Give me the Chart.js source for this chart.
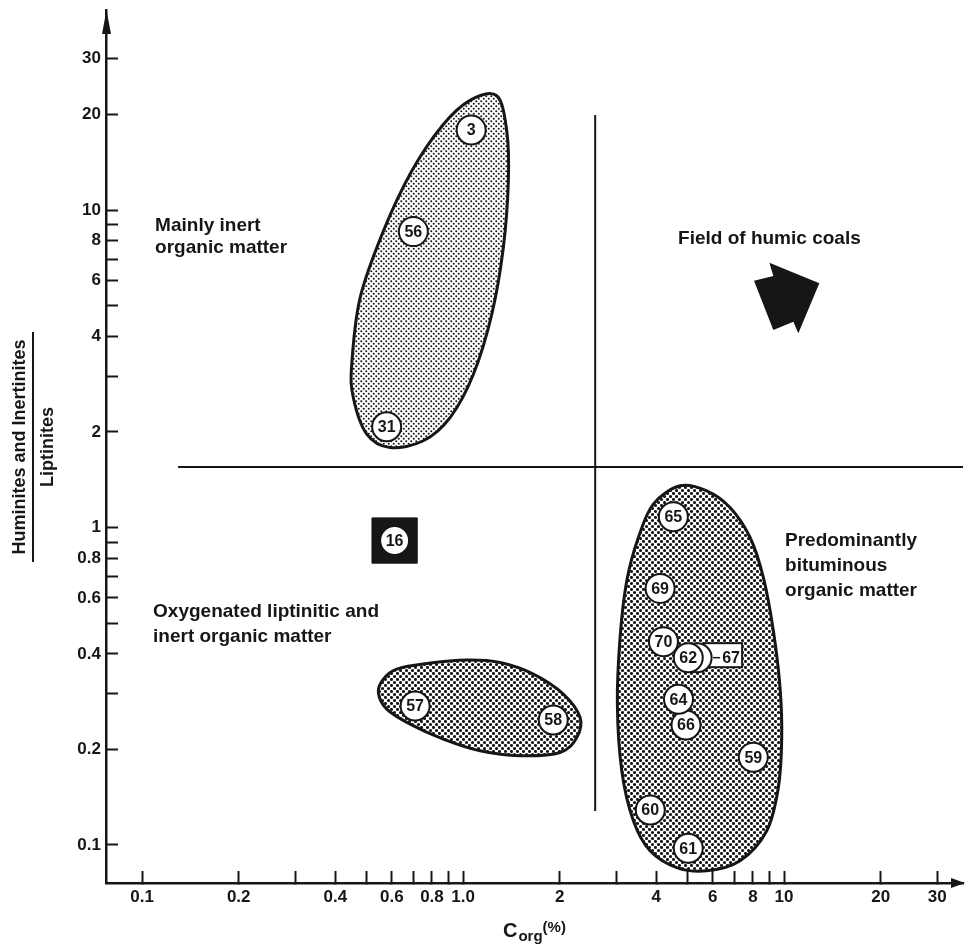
<!DOCTYPE html>
<html><head><meta charset="utf-8">
<script src="https://cdn.jsdelivr.net/npm/chart.js@4.4.1/dist/chart.umd.min.js"></script>
<style>html,body{margin:0;padding:0;background:#fff;}canvas{display:block;}</style>
</head><body>
<canvas id="c" width="965" height="945"></canvas>
<script>
// ---------------- data ----------------
const SAMPLE_IDS   = ['3','56','31','16','57','58','65','69','70','67','62','66','64','59','60','61'];
const SAMPLE_CORG  = [1.06,0.70,0.578,0.612,0.709,1.91,4.52,4.11,4.21,5.36,5.03,4.95,4.69,8.02,3.83,5.03];
const SAMPLE_RATIO = [17.86,8.55,2.077,0.910,0.274,0.2475,1.081,0.643,0.437,0.389,0.389,0.2388,0.2876,0.1889,0.1289,0.0976];
const BOXED_IDS = ['16'];
const CALLOUT_IDS = ['67'];

const X_TICKS = [0.1,0.2,0.3,0.4,0.5,0.6,0.7,0.8,0.9,1,2,3,4,5,6,7,8,9,10,20,30];
const X_TICK_LABELS = ['0.1','0.2','','0.4','','0.6','','0.8','','1.0','2','','4','','6','','8','','10','20','30'];
const Y_TICKS = [0.1,0.2,0.3,0.4,0.5,0.6,0.7,0.8,0.9,1,2,3,4,5,6,7,8,9,10,20,30];
const Y_TICK_LABELS = ['0.1','0.2','','0.4','','0.6','','0.8','','1','2','','4','','6','','8','','10','20','30'];
const X_RANGE = [0.0772, 36.1];
const Y_RANGE = [0.0759, 42.66];

// quadrant dividers
const HLINE_Y = 1.55;  const HLINE_X = [0.1295, 36.1];
const VLINE_X = 2.58;  const VLINE_Y = [0.128, 19.92];

// outlines of the three shaded fields (C_org, ratio)
const FIELD_A_X = [1.273,1.368,1.384,1.335,1.229,1.077,0.911,0.752,0.592,0.501,0.455,0.450,0.478,0.565,0.690,0.860,1.051];
const FIELD_A_Y = [22.9,17.76,12.36,7.62,4.70,3.04,2.22,1.876,1.786,1.969,2.567,3.27,5.30,8.60,13.2,18.4,22.15];
const FIELD_B_X = [0.5447,0.5646,0.6215,0.7706,1.027,1.304,1.656,2.053,2.315,2.261,2.005,1.505,1.130,0.868,0.6839,0.5786];
const FIELD_B_Y = [0.3022,0.3331,0.3581,0.3729,0.3823,0.3756,0.3453,0.2987,0.2521,0.2182,0.1956,0.1910,0.1980,0.2156,0.2403,0.2679];
const FIELD_C_X = [4.743,5.743,6.788,7.838,8.620,9.262,9.716,9.835,9.599,8.834,7.294,5.743,4.632,3.825,3.393,3.122,3.025,3.084,3.236,3.517,3.915];
const FIELD_C_Y = [1.353,1.305,1.156,0.930,0.696,0.4727,0.3133,0.2182,0.1518,0.1109,0.0892,0.0829,0.0849,0.0959,0.1192,0.1713,0.2778,0.4502,0.6794,0.930,1.185];

// arrow toward the humic coal field
const ARROW_X = [9.00,12.88,11.08,10.69,9.26,8.06,9.26];
const ARROW_Y = [6.82,5.88,4.09,4.45,4.19,5.99,6.20];

// text annotations: [text lines, anchor C_org, anchor ratio, line step]
const NOTES = [
  [['Mainly inert','organic matter'], 0.1098, 8.59, 22],
  [['Field of humic coals'], 4.676, 7.81, 25],
  [['Oxygenated liptinitic and','inert organic matter'], 0.1082, 0.5225, 25],
  [['Predominantly','bituminous','organic matter'], 10.07, 0.874, 25]
];

// ---------------- drawing ----------------
const FONT = "'Liberation Sans', Arial, Helvetica, sans-serif";
const INK = '#161616';
Chart.defaults.font.family = FONT;

function makePattern(ctx, size, r) {
  const c = document.createElement('canvas'); c.width = c.height = size;
  const g = c.getContext('2d');
  g.fillStyle = '#fff'; g.fillRect(0,0,size,size);
  g.fillStyle = INK;
  [[size/4,size/4],[3*size/4,3*size/4]].forEach(([x,y]) => { g.beginPath(); g.arc(x,y,r,0,Math.PI*2); g.fill(); });
  return ctx.createPattern(c, 'repeat');
}
function closedSpline(ctx, pts) {
  const n = pts.length;
  ctx.beginPath();
  ctx.moveTo(pts[0].x, pts[0].y);
  for (let i = 0; i < n; i++) {
    const p0 = pts[(i-1+n)%n], p1 = pts[i], p2 = pts[(i+1)%n], p3 = pts[(i+2)%n];
    ctx.bezierCurveTo(p1.x+(p2.x-p0.x)/6, p1.y+(p2.y-p0.y)/6, p2.x-(p3.x-p1.x)/6, p2.y-(p3.y-p1.y)/6, p2.x, p2.y);
  }
  ctx.closePath();
}

const fieldsPlugin = {
  id: 'fields',
  beforeDatasetsDraw(chart) {
    const {ctx, scales:{x, y}} = chart;
    const light = makePattern(ctx, 5, 1.0), dark = makePattern(ctx, 6, 1.55);
    const fields = [[FIELD_A_X, FIELD_A_Y, light],[FIELD_B_X, FIELD_B_Y, dark],[FIELD_C_X, FIELD_C_Y, dark]];
    ctx.save();
    fields.forEach(([fx, fy, pat]) => {
      const pts = fx.map((v,i) => ({x: x.getPixelForValue(v), y: y.getPixelForValue(fy[i])}));
      closedSpline(ctx, pts);
      ctx.fillStyle = pat; ctx.fill();
      ctx.lineWidth = 3; ctx.strokeStyle = INK; ctx.stroke();
    });
    // callout box for sample 67
    CALLOUT_IDS.forEach(id => {
      const i = SAMPLE_IDS.indexOf(id);
      const px = x.getPixelForValue(SAMPLE_CORG[i]), py = y.getPixelForValue(SAMPLE_RATIO[i]);
      ctx.fillStyle = '#fff'; ctx.strokeStyle = INK; ctx.lineWidth = 2;
      ctx.fillRect(px+7, py-14.5, 38, 24); ctx.strokeRect(px+7, py-14.5, 38, 24);
    });
    ctx.restore();
  },
  afterDatasetsDraw(chart) {
    const {ctx, scales:{x, y}} = chart;
    const meta = chart.getDatasetMeta(0);
    ctx.save();
    ctx.fillStyle = INK; ctx.textAlign = 'center'; ctx.textBaseline = 'middle';
    ctx.font = `bold 16px ${FONT}`;
    meta.data.forEach((el, i) => {
      const id = SAMPLE_IDS[i];
      if (CALLOUT_IDS.includes(id)) {
        ctx.strokeStyle = INK; ctx.lineWidth = 1.5;
        ctx.beginPath(); ctx.moveTo(el.x+16, el.y); ctx.lineTo(el.x+23, el.y); ctx.stroke();
        ctx.fillText(id, el.x+34, el.y + 1);
      } else {
        ctx.fillText(id, el.x, el.y + 1);
      }
    });
    // arrow shape
    ctx.beginPath();
    ARROW_X.forEach((v,i) => { const px = x.getPixelForValue(v), py = y.getPixelForValue(ARROW_Y[i]); i ? ctx.lineTo(px,py) : ctx.moveTo(px,py); });
    ctx.closePath(); ctx.fill();
    // annotations
    ctx.textAlign = 'left'; ctx.textBaseline = 'alphabetic';
    ctx.font = `bold 19px ${FONT}`;
    NOTES.forEach(([lines, ax, ay, lh]) => {
      const px = x.getPixelForValue(ax), py = y.getPixelForValue(ay);
      lines.forEach((t, k) => ctx.fillText(t, px, py + k*lh));
    });
    ctx.restore();
  },
  afterDraw(chart) {
    const {ctx, chartArea:a} = chart;
    ctx.save();
    ctx.fillStyle = INK;
    // axis arrows
    ctx.beginPath(); ctx.moveTo(a.left+0.5, a.top); ctx.lineTo(a.left-4, a.top+24); ctx.lineTo(a.left+5, a.top+24); ctx.closePath(); ctx.fill();
    ctx.beginPath(); ctx.moveTo(a.right+2, a.bottom); ctx.lineTo(a.right-12, a.bottom-5); ctx.lineTo(a.right-12, a.bottom+5); ctx.closePath(); ctx.fill();
    // y title (fraction)
    ctx.textAlign = 'center'; ctx.textBaseline = 'middle';
    ctx.font = `bold 18px ${FONT}`;
    const cy = 447;
    ctx.save(); ctx.translate(a.left-86, cy); ctx.rotate(-Math.PI/2); ctx.fillText('Huminites and Inertinites', 0, 0); ctx.restore();
    ctx.save(); ctx.translate(a.left-58, cy); ctx.rotate(-Math.PI/2); ctx.fillText('Liptinites', 0, 0); ctx.restore();
    ctx.strokeStyle = INK; ctx.lineWidth = 2;
    ctx.beginPath(); ctx.moveTo(a.left-73, cy-115); ctx.lineTo(a.left-73, cy+115); ctx.stroke();
    // x title C_org(%)
    ctx.textAlign = 'left'; ctx.textBaseline = 'alphabetic';
    let tx = 503;
    ctx.font = `bold 20px ${FONT}`; ctx.fillText('C', tx, a.bottom+54); tx += ctx.measureText('C').width + 1;
    ctx.font = `bold 15px ${FONT}`; ctx.fillText('org', tx, a.bottom+58); tx += ctx.measureText('org').width;
    ctx.fillText('(%)', tx, a.bottom+49);
    ctx.restore();
  }
};

const pts = (ids) => ids.map(id => { const i = SAMPLE_IDS.indexOf(id); return {x: SAMPLE_CORG[i], y: SAMPLE_RATIO[i]}; });
const noPad = s => { s.paddingTop = 0; s.paddingBottom = 0; s.paddingLeft = 0; s.paddingRight = 0; };

new Chart(document.getElementById('c'), {
  type: 'scatter',
  data: { datasets: [
    { label: 'samples', data: SAMPLE_IDS.map((id,i) => ({x: SAMPLE_CORG[i], y: SAMPLE_RATIO[i]})),
      pointRadius: 14.5, pointBackgroundColor: '#fff', pointBorderColor: INK, pointBorderWidth: 2, order: 1 },
    { label: 'boxed', data: pts(BOXED_IDS), pointStyle: 'rect', pointRadius: 32,
      pointBackgroundColor: INK, pointBorderColor: INK, pointBorderWidth: 1, order: 2 },
    { label: 'h', data: [{x: HLINE_X[0], y: HLINE_Y}, {x: HLINE_X[1], y: HLINE_Y}], showLine: true,
      pointRadius: 0, borderColor: INK, borderWidth: 2, order: 3 },
    { label: 'v', data: [{x: VLINE_X, y: VLINE_Y[0]}, {x: VLINE_X, y: VLINE_Y[1]}], showLine: true,
      pointRadius: 0, borderColor: INK, borderWidth: 2, order: 4 }
  ]},
  options: {
    responsive: false, animation: false, events: [],
    layout: { autoPadding: false, padding: { top: 10, right: 2, left: 0, bottom: 0 } },
    plugins: { legend: { display: false }, tooltip: { enabled: false } },
    scales: {
      x: { type: 'logarithmic', min: X_RANGE[0], max: X_RANGE[1],
        afterBuildTicks: s => { s.ticks = X_TICKS.map(v => ({value: v})); },
        afterFit: s => { s.height = 62; noPad(s); },
        ticks: { autoSkip: false, maxRotation: 0, padding: 16, color: INK,
          font: { size: 17, weight: 'bold' }, callback: (v, i) => X_TICK_LABELS[i] },
        grid: { drawOnChartArea: false, drawTicks: true, tickLength: -12, tickColor: INK, tickWidth: 2 },
        border: { display: true, color: INK, width: 2.5 } },
      y: { type: 'logarithmic', min: Y_RANGE[0], max: Y_RANGE[1],
        afterBuildTicks: s => { s.ticks = Y_TICKS.map(v => ({value: v})); },
        afterFit: s => { s.width = 106; noPad(s); },
        ticks: { autoSkip: false, padding: 17, color: INK,
          font: { size: 17, weight: 'bold' }, callback: (v, i) => Y_TICK_LABELS[i] },
        grid: { drawOnChartArea: false, drawTicks: true, tickLength: -12, tickColor: INK, tickWidth: 2 },
        border: { display: true, color: INK, width: 2.5 } }
    }
  },
  plugins: [fieldsPlugin]
});
</script>
</body></html>
